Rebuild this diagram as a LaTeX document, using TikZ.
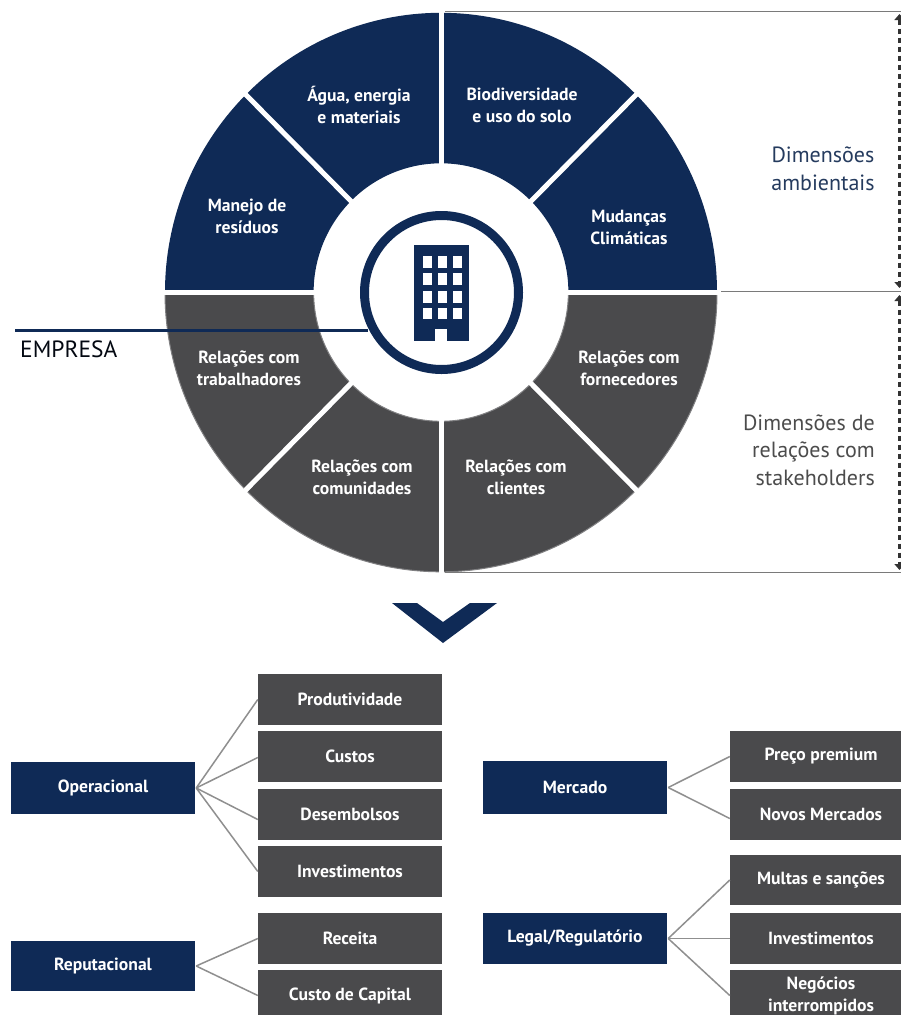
\documentclass[tikz,border=0pt]{standalone}
\usepackage{fontspec}
\setmainfont{PT Sans}
\newfontfamily\semib{PT Sans Bold}
\usetikzlibrary{calc,arrows.meta}
\definecolor{navy}{HTML}{0F2A56}
\definecolor{slate}{HTML}{4A4A4C}
\definecolor{linegray}{HTML}{8F8F8F}
\tikzset{
  x=1pt,y=-1pt,
  seclabel/.style={text=white,font=\bfseries\fontsize{17.6}{22}\selectfont,align=center,inner sep=0pt},
  sidelabel/.style={inner sep=0pt,font=\fontsize{22}{27.5}\selectfont},
  navybox/.style={fill=navy,text=white,inner sep=0pt,font=\bfseries\fontsize{17.6}{22}\selectfont,align=center},
  slatebox/.style={fill=slate,text=white,inner sep=0pt,font=\bfseries\fontsize{17.6}{22}\selectfont,align=center},
  link/.style={draw=linegray,line width=1.5pt},
  guide/.style={draw=linegray!85!black,line width=1pt},
  span/.style={draw=black!80,line width=3.5pt,dash pattern=on 5pt off 4pt,{Triangle[length=6pt,width=10pt]}-{Triangle[length=6pt,width=10pt]}},
  navysec/.style={fill=navy},
  slatesec/.style={fill=slate,draw=slate!70!white,line width=1pt},
  gapline/.style={draw=white,line width=5pt},
}
\newcommand{\sector}[3]{\path[#3] (#1:279.5pt) arc[start angle=#1,end angle=#2,radius=279.5pt] -- (#2:129pt) arc[start angle=#2,end angle=#1,radius=129pt] -- cycle;}
\newcommand{\rectnode}[6]{\node[#1,minimum width=#5pt-#3pt,minimum height=#6pt-#4pt,anchor=center] (#2) at ({(#3+#5)/2},{(#4+#6)/2})}
\begin{document}
\begin{tikzpicture}
\clip (0,0) rectangle (901,1015);
\fill[white] (0,0) rectangle (901,1015);
% wheel
\begin{scope}[shift={(441,292.3)},y=1pt,xscale=0.9875]
  \sector{0}{45}{navysec}\sector{45}{90}{navysec}\sector{90}{135}{navysec}\sector{135}{180}{navysec}
  \sector{180}{225}{slatesec}\sector{225}{270}{slatesec}\sector{270}{315}{slatesec}\sector{315}{360}{slatesec}
  \foreach \a in {0,45,90,135,180,225,270,315}{
    \draw[gapline] (\a:124pt) -- (\a:285pt);}
\end{scope}
% guides
\coordinate (g1a) at (445,11); \coordinate (g1b) at (901,11);
\coordinate (g2a) at (721,291); \coordinate (g2b) at (901,291);
\coordinate (g3a) at (445,572); \coordinate (g3b) at (901,572);
\draw[guide] (g1a) -- (g1b);
\draw[guide] (g2a) -- (g2b);
\draw[guide] (g3a) -- (g3b);
\coordinate (s1a) at (899.5,14); \coordinate (s1b) at (899.5,288);
\coordinate (s2a) at (899.5,295); \coordinate (s2b) at (899.5,570);
\draw[span] (s1a) -- (s1b);
\draw[span] (s2a) -- (s2b);
% hub
\node[circle,draw=navy,line width=9pt,minimum size=154pt,inner sep=0pt] (hub) at (441.5,292.5) {};
\fill[navy] (414,245) rectangle (469,341);
\fill[white] (435,329) rectangle (447,341);
\foreach \cx in {423,438,453}{
  \foreach \cy/\cyb in {256/268,273/285,291/303,308/319}{
    \fill[white] (\cx,\cy) rectangle ({\cx+8.5},\cyb);
  }}
% company line
\coordinate (emp) at (15,330);
\draw[navy,line width=3pt] (emp) -- (368,330);
\node[inner sep=0pt,anchor=west,text=black!80!navy,font=\fontsize{23.5}{26}\selectfont] (emptext) at (20,349) {EMPRESA};
% wheel labels
\node[seclabel] (s1) at (359,105) {Água, energia\\e materiais};
\node[seclabel] (s2) at (522,105) {Biodiversidade\\e uso do solo};
\node[seclabel] (s3) at (629,227) {Mudanças\\Climáticas};
\node[seclabel] (s4) at (247,216) {Manejo de\\resíduos};
\node[seclabel] (s5) at (249,368) {Relações com\\trabalhadores};
\node[seclabel] (s6) at (629,368) {Relações com\\fornecedores};
\node[seclabel] (s7) at (362,477) {Relações com\\comunidades};
\node[seclabel] (s8) at (516,477) {Relações com\\clientes};
\node[sidelabel,text=navy!80!gray,align=center] (amb) at (823,169) {Dimensões\\ambientais};
\node[sidelabel,text=black!70,align=right,anchor=east] (sta) at (875,450) {Dimensões de\hspace{4pt}\\relações com\\stakeholders};
% chevron
\fill[navy] (392,603) -- (417,603) -- (443,622) -- (470,603) -- (497,603) -- (443,643) -- cycle;
% lower boxes
\rectnode{navybox}{op}{11}{762}{195}{814} {Operacional};
\rectnode{navybox}{rep}{11}{941}{195}{991} {Reputacional};
\rectnode{navybox}{mer}{483}{761}{667}{814} {Mercado};
\rectnode{navybox}{leg}{483}{913}{667}{964} {Legal/Regulatório};
\rectnode{slatebox}{a1}{258}{674}{442}{725} {Produtividade};
\rectnode{slatebox}{a2}{258}{731}{442}{782} {Custos};
\rectnode{slatebox}{a3}{258}{789}{442}{840} {Desembolsos};
\rectnode{slatebox}{a4}{258}{846}{442}{897} {Investimentos};
\rectnode{slatebox}{b1}{258}{913}{442}{964} {Receita};
\rectnode{slatebox}{b2}{258}{970}{442}{1021} {Custo de Capital};
\rectnode{slatebox}{c1}{730}{731}{912}{782} {Preço premium};
\rectnode{slatebox}{c2}{730}{789}{912}{840} {Novos Mercados};
\rectnode{slatebox}{d1}{730}{855}{912}{905} {Multas e sanções};
\rectnode{slatebox}{d2}{730}{913}{912}{964} {Investimentos};
\rectnode{slatebox}{d3}{730}{970}{912}{1021} {Negócios\\interrompidos};
% connectors
\draw[link] ($(op.east)+(1,0)$) -- (a1.west);
\draw[link] ($(op.east)+(1,0)$) -- ($(a2.west)+(0,1)$);
\draw[link] ($(op.east)+(1,0)$) -- ($(a3.west)+(0,5)$);
\draw[link] ($(op.east)+(1,0)$) -- (a4.west);
\draw[link] ($(rep.east)+(1,0)$) -- (b1.west);
\draw[link] ($(rep.east)+(1,0)$) -- (b2.west);
\draw[link] ($(mer.east)+(1,0)$) -- (c1.west);
\draw[link] ($(mer.east)+(1,0)$) -- ($(c2.west)+(0,4)$);
\draw[link] ($(leg.east)+(1,0)$) -- (d1.west);
\draw[link] ($(leg.east)+(1,0)$) -- (d2.west);
\draw[link] ($(leg.east)+(1,0)$) -- (d3.west);
\end{tikzpicture}
\end{document}
